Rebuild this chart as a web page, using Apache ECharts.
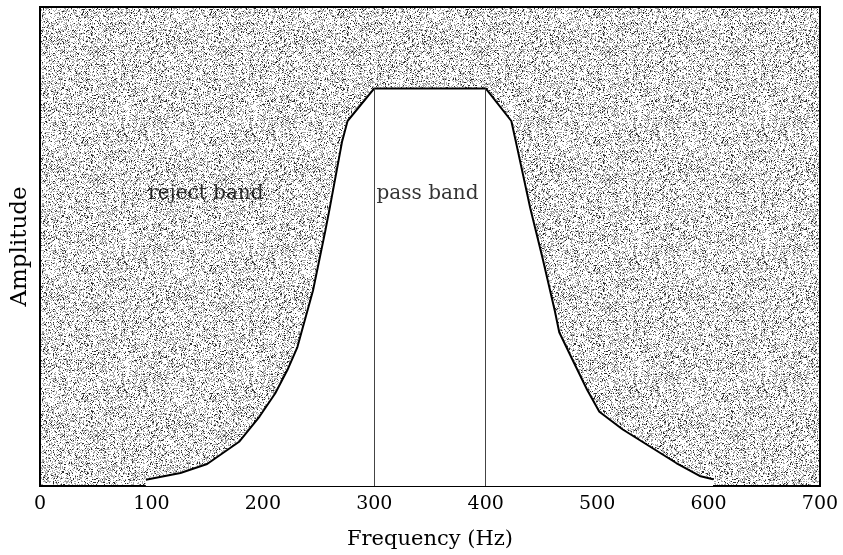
<!DOCTYPE html>
<html>
<head>
<meta charset="utf-8">
<script src="https://cdn.jsdelivr.net/npm/echarts@6/dist/echarts.min.js"></script>
<style>html,body{margin:0;padding:0;background:#fff}#c{width:843px;height:555px}</style>
</head>
<body>
<div id="c"></div>
<script>
// Frequency response curve (Hz, relative amplitude)
const freq = [95, 126, 150, 179, 197, 211, 222, 231, 245, 256, 260, 271, 276, 300, 400, 423, 429, 440, 451, 462, 466, 478, 491, 502, 523, 547, 571, 592, 604];
const amp  = [0.013, 0.027, 0.046, 0.093, 0.145, 0.193, 0.242, 0.290, 0.408, 0.532, 0.580, 0.718, 0.762, 0.830, 0.830, 0.762, 0.698, 0.580, 0.476, 0.366, 0.321, 0.263, 0.201, 0.155, 0.118, 0.083, 0.048, 0.021, 0.014];
const bandEdges = [300, 400];
const xTicks = [0, 100, 200, 300, 400, 500, 600, 700];
const labels = [
  {text: 'reject band', f: 97, a: 0.61},
  {text: 'pass band', f: 302, a: 0.61}
];

// stipple texture (deterministic)
function makePattern() {
  const s = 128;
  const cv = document.createElement('canvas');
  cv.width = s; cv.height = s;
  const ctx = cv.getContext('2d');
  ctx.fillStyle = '#ffffff';
  ctx.fillRect(0, 0, s, s);
  let h = 12345;
  function next() { h = (h * 1103515245 + 12345) & 0x7fffffff; return h / 0x7fffffff; }
  for (let y = 0; y < s; y++) {
    for (let x = 0; x < s; x++) {
      const r = next();
      if (r < 0.08) { ctx.fillStyle = '#2a2a2a'; ctx.fillRect(x, y, 1, 1); }
      else if (r < 0.36) { ctx.fillStyle = '#a6a6a6'; ctx.fillRect(x, y, 1, 1); }
    }
  }
  return cv;
}

const chart = echarts.init(document.getElementById('c'), null, {renderer: 'canvas'});
const data = freq.map((f, i) => [f, amp[i]]);
const serif = '"DejaVu Serif", "Liberation Serif", serif';

chart.setOption({
  animation: false,
  grid: {
    left: 40, right: 23, top: 7, bottom: 65,
    show: true,
    backgroundColor: {image: makePattern(), repeat: 'repeat'},
    borderColor: '#000', borderWidth: 2
  },
  xAxis: {
    type: 'value', min: 0, max: 700, interval: 100,
    name: 'Frequency (Hz)', nameLocation: 'middle', nameGap: 43,
    nameTextStyle: {fontFamily: serif, fontSize: 21, color: '#000'},
    axisLine: {show: true, lineStyle: {color: '#000', width: 2}},
    axisTick: {show: true, inside: true, length: 5, lineStyle: {color: '#000', width: 1}},
    axisLabel: {fontFamily: serif, fontSize: 19, color: '#000', margin: 9,
      formatter: v => xTicks.includes(v) ? String(v) : ''},
    splitLine: {show: false}
  },
  yAxis: {
    type: 'value', min: 0, max: 1,
    name: 'Amplitude', nameLocation: 'middle', nameGap: 8,
    nameTextStyle: {fontFamily: serif, fontSize: 23, color: '#000'},
    axisLine: {show: true, lineStyle: {color: '#000', width: 2}},
    axisTick: {show: false}, axisLabel: {show: false}, splitLine: {show: false}
  },
  series: [{
    type: 'line', data: data, symbol: 'none', smooth: false,
    lineStyle: {color: '#000', width: 2},
    areaStyle: {color: '#ffffff', opacity: 1},
    z: 2,
    markLine: {
      silent: true, symbol: 'none', label: {show: false},
      lineStyle: {color: '#444', width: 1, type: 'solid'},
      data: bandEdges.map(f => [{coord: [f, 0]}, {coord: [f, amp[freq.indexOf(f)]]}])
    }
  }, {
    type: 'scatter', symbolSize: 0, z: 5, silent: true,
    data: labels.map(l => ({value: [l.f, l.a], name: l.text})),
    label: {show: true, position: 'right', distance: 0, formatter: p => p.name,
      fontFamily: serif, fontSize: 20, color: '#000'}
  }]
});
</script>
</body>
</html>
